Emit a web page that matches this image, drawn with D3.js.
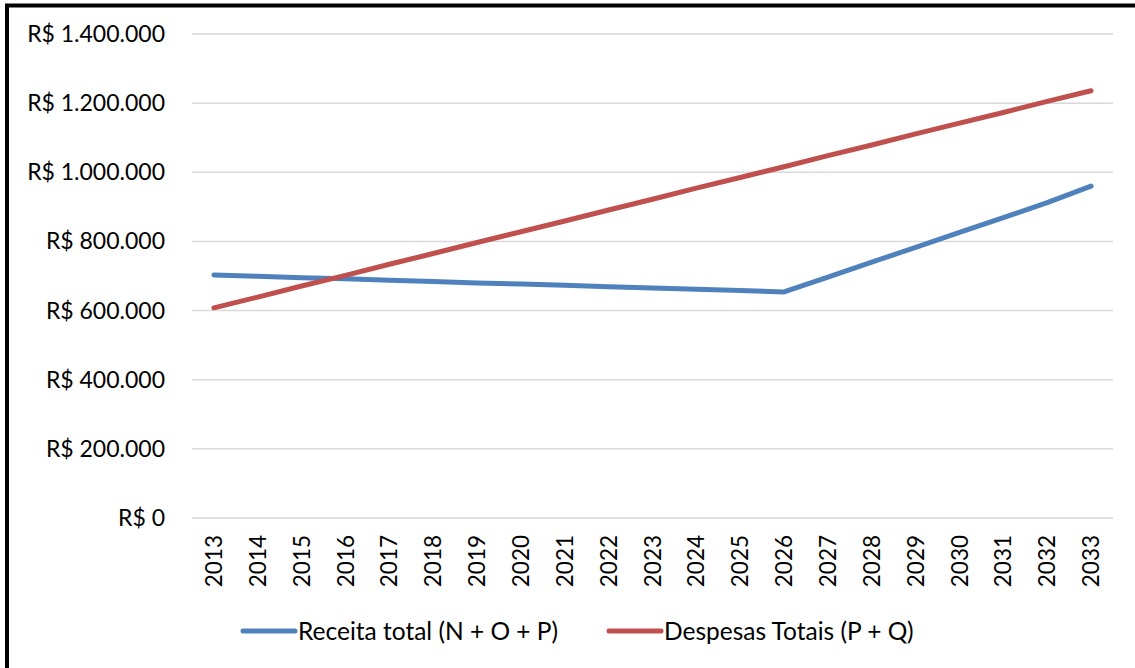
<!DOCTYPE html>
<html>
<head>
<meta charset="utf-8">
<script src="https://cdn.jsdelivr.net/npm/d3@7"></script>
<style>
  body { margin: 0; background: #fff; }
  svg { display: block; font-family: Lato, "Open Sans", sans-serif; }
</style>
</head>
<body>
<svg id="chart" width="1135" height="668"></svg>
<script>
// years on the x axis
const years = ["2013","2014","2015","2016","2017","2018","2019","2020","2021","2022","2023",
               "2024","2025","2026","2027","2028","2029","2030","2031","2032","2033"];

// Receita total (N + O + P)
const receita = [703000, 699000, 695000, 692000, 688000, 684000, 680000, 677000, 673000, 669000, 665000,
                 662000, 658000, 654000, 697000, 740000, 783000, 826000, 869000, 912000, 960000];

// Despesas Totais (P + Q)
const despesas = [608000, 639000, 671000, 702000, 734000, 765000, 797000, 828000, 859000, 891000, 922000,
                  954000, 985000, 1016000, 1048000, 1079000, 1111000, 1142000, 1173000, 1205000, 1236000];

const yTicks = [0, 200000, 400000, 600000, 800000, 1000000, 1200000, 1400000];
const seriesNames = ["Receita total (N + O + P)", "Despesas Totais (P + Q)"];
const seriesColors = ["#4f81bd", "#c0504d"];

const svg = d3.select("#chart");

// frame (only top and left edges show)
svg.append("rect")
    .attr("x", 7).attr("y", 5.5)
    .attr("width", 1400).attr("height", 900)
    .attr("fill", "none")
    .attr("stroke", "#000")
    .attr("stroke-width", 4);

const x = d3.scaleBand().domain(years).range([192, 1113]);
const y = d3.scaleLinear().domain([0, 1400000]).range([518, 34]);

// gridlines
svg.append("g")
    .selectAll("line")
    .data(yTicks)
    .join("line")
    .attr("x1", 192).attr("x2", 1113)
    .attr("y1", d => y(d)).attr("y2", d => y(d))
    .attr("stroke", "#d9d9d9")
    .attr("stroke-width", 1.5);

// y labels
const fmt = v => "R$ " + d3.format(",")(v).replace(/,/g, ".");
svg.append("g")
    .selectAll("text")
    .data(yTicks)
    .join("text")
    .attr("x", 165)
    .attr("y", d => y(d))
    .attr("dy", "0.35em")
    .attr("text-anchor", "end")
    .attr("font-size", 23)
    .attr("fill", "#000")
    .text(fmt);

// x labels, rotated
svg.append("g")
    .selectAll("text")
    .data(years)
    .join("text")
    .attr("transform", d => `translate(${x(d) + x.bandwidth() / 2},535) rotate(-90)`)
    .attr("dy", "0.36em")
    .attr("text-anchor", "end")
    .attr("font-size", 22.5)
    .attr("fill", "#000")
    .text(d => d);

// lines
const line = d3.line()
    .x((d, i) => x(years[i]) + x.bandwidth() / 2)
    .y(d => y(d));

[receita, despesas].forEach((s, k) => {
  svg.append("path")
      .datum(s)
      .attr("d", line)
      .attr("fill", "none")
      .attr("stroke", seriesColors[k])
      .attr("stroke-width", 5)
      .attr("stroke-linecap", "round")
      .attr("stroke-linejoin", "round");
});

// legend
const legendX = [243, 609];
const lg = svg.append("g");
seriesNames.forEach((name, k) => {
  lg.append("line")
      .attr("x1", legendX[k]).attr("x2", legendX[k] + 52)
      .attr("y1", 631).attr("y2", 631)
      .attr("stroke", seriesColors[k])
      .attr("stroke-width", 5)
      .attr("stroke-linecap", "round");
  lg.append("text")
      .attr("x", legendX[k] + 55)
      .attr("y", 631)
      .attr("dy", "0.35em")
      .attr("font-size", 24.5)
      .attr("fill", "#000")
      .text(name);
});
</script>
</body>
</html>
